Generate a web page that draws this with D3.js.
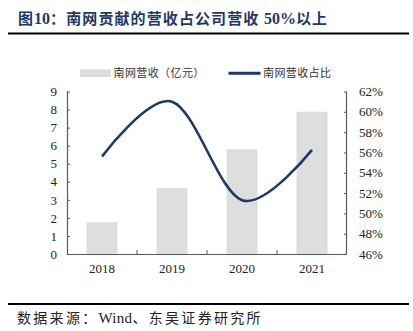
<!DOCTYPE html>
<html><head><meta charset="utf-8">
<script src="https://cdn.jsdelivr.net/npm/d3@7"></script>
<style>
html,body{margin:0;padding:0;background:#fff;}
svg{display:block;}
</style></head>
<body>
<svg id="c" width="413" height="331"></svg>
<script>
const years = ["2018","2019","2020","2021"];
const revenue = [1.76, 3.65, 5.8, 7.88];          // 南网营收（亿元）
const share = [55.6, 61.0, 51.3, 56.25];          // 南网营收占比 (%)
const leftTicks = [0,1,2,3,4,5,6,7,8,9];
const rightTicks = [46,48,50,52,54,56,58,60,62];
const titleParts = ["图", "10", "：南网贡献的营收占公司营收 ", "50%", "以上"];
const source = ["数据来源：", "Wind", "、东吴证券研究所"];
const legendNames = ["南网营收（亿元）","南网营收占比"];

const svg = d3.select("#c");
const serif = "'Liberation Serif','Times New Roman','Noto Sans CJK SC',serif";
const cjk = "'Noto Sans CJK SC','Liberation Serif',serif";
const navy = "#1f3864";

const L = 67, R = 347, T = 91.5, B = 254;
const x = d3.scaleBand().domain(years).range([L, R]).paddingInner(0).paddingOuter(0);
const yL = d3.scaleLinear().domain([0, 9]).range([B, T]);
const yR = d3.scaleLinear().domain([46, 62]).range([B, T]);

// title
const tt = svg.append("text").attr("x", 18).attr("y", 24)
  .attr("font-weight", "bold").attr("font-size", 15).attr("fill", navy);
titleParts.forEach((p, i) => {
  tt.append("tspan").attr("font-family", (i === 1 || i === 3) ? serif : cjk)
    .attr("font-size", (i === 1 || i === 3) ? 16 : 15)
    .attr("letter-spacing", (i === 1 || i === 3) ? 0 : 1.1).text(p);
});
svg.append("line").attr("x1", 8).attr("x2", 409).attr("y1", 33.5).attr("y2", 33.5)
  .attr("stroke", "#000").attr("stroke-width", 1.8);

// legend
svg.append("rect").attr("x", 80).attr("y", 69.5).attr("width", 31).attr("height", 7.5).attr("fill", "#dcdcdc");
svg.append("text").attr("x", 113.5).attr("y", 77.3).attr("font-family", cjk).attr("font-size", 11)
  .attr("letter-spacing", 0.4).attr("fill", "#333").text(legendNames[0]);
svg.append("line").attr("x1", 228.5).attr("x2", 260.5).attr("y1", 73.3).attr("y2", 73.3)
  .attr("stroke", navy).attr("stroke-width", 3);
svg.append("text").attr("x", 263).attr("y", 77.3).attr("font-family", cjk).attr("font-size", 11)
  .attr("letter-spacing", 0.4).attr("fill", "#333").text(legendNames[1]);

// bars
const bw = 31;
svg.append("g").selectAll("rect").data(years).join("rect")
  .attr("x", d => x(d) + x.bandwidth()/2 - bw/2)
  .attr("y", (d,i) => yL(revenue[i]))
  .attr("width", bw)
  .attr("height", (d,i) => B - yL(revenue[i]))
  .attr("fill", "#dedede");

// axes
const axisColor = "#595959";
const gL = svg.append("g").attr("transform", `translate(${L},0)`)
  .call(d3.axisLeft(yL).tickValues(leftTicks).tickSize(-3).tickPadding(10).tickFormat(d3.format("d")));
const gR = svg.append("g").attr("transform", `translate(${R},0)`)
  .call(d3.axisRight(yR).tickValues(rightTicks).tickSize(-3).tickPadding(12).tickFormat(d => d + "%"));
const gX = svg.append("g").attr("transform", `translate(0,${B})`)
  .call(d3.axisBottom(x).tickSize(0).tickPadding(10));
// inward category boundary ticks
svg.append("g").selectAll("line").data(years.slice(1)).join("line")
  .attr("x1", d => x(d)).attr("x2", d => x(d)).attr("y1", B).attr("y2", B - 4)
  .attr("stroke", axisColor).attr("stroke-width", 1);

[gL, gR, gX].forEach(g => {
  g.selectAll(".domain").attr("stroke", axisColor).attr("stroke-width", 1.2);
  g.selectAll(".tick line").attr("stroke", axisColor);
  g.selectAll("text").attr("font-family", serif).attr("font-size", 13).attr("fill", "#222");
});
gX.select(".domain").attr("d", `M${L},0.5H${R}`);
gL.select(".domain").attr("d", `M0.5,${T}V${B}`);
gR.select(".domain").attr("d", `M-0.5,${T}V${B}`);

// line
const line = d3.line()
  .x((d,i) => x(years[i]) + x.bandwidth()/2)
  .y(d => yR(d))
  .curve(d3.curveCardinal.tension(0));
svg.append("path").datum(share).attr("d", line)
  .attr("fill", "none").attr("stroke", navy).attr("stroke-width", 2.6).attr("stroke-linecap", "butt");

// bottom rule and source
svg.append("line").attr("x1", 8).attr("x2", 409).attr("y1", 304).attr("y2", 304)
  .attr("stroke", "#000").attr("stroke-width", 1.8);
const st = svg.append("text").attr("x", 17).attr("y", 322.5).attr("font-size", 14).attr("fill", "#222");
source.forEach((p, i) => {
  st.append("tspan").attr("font-family", i === 1 ? serif : cjk)
    .attr("font-size", i === 1 ? 15 : 14)
    .attr("letter-spacing", i === 1 ? 0.3 : 2.3).text(p);
});
</script>
</body></html>
